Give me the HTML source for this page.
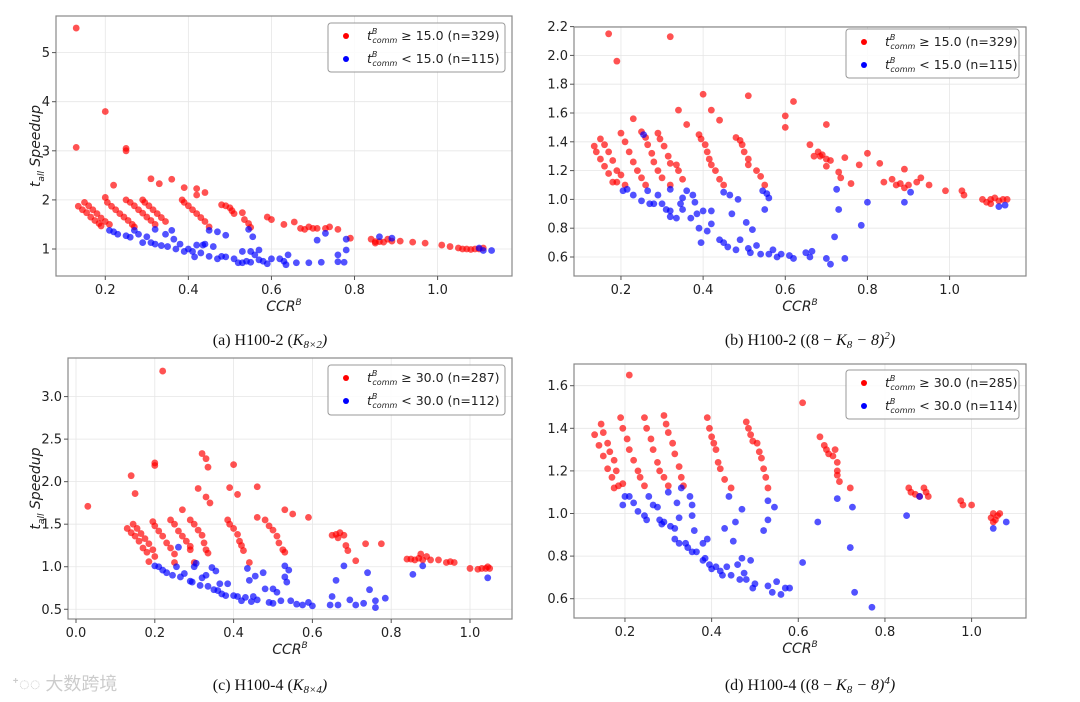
<!DOCTYPE html>
<html><head><meta charset="utf-8">
<style>
html,body{margin:0;padding:0;background:#fff;}
svg{display:block;font-family:"DejaVu Sans","Liberation Sans",sans-serif;}
.tick{font-size:13px;fill:#222;}
.cap{font-family:"Liberation Serif",serif;font-size:16px;fill:#111;}
</style></head>
<body>
<svg id="fig" width="1080" height="702" viewBox="0 0 1080 702" xmlns="http://www.w3.org/2000/svg"></svg>
<script>
// ---- data ----
const aXTicks=[0.2,0.4,0.6,0.8,1.0];
const aYTicks=[1,2,3,4,5];
const bXTicks=[0.2,0.4,0.6,0.8,1.0];
const bYTicks=[0.6,0.8,1.0,1.2,1.4,1.6,1.8,2.0,2.2];
const cXTicks=[0.0,0.2,0.4,0.6,0.8,1.0];
const cYTicks=[0.5,1.0,1.5,2.0,2.5,3.0];
const dXTicks=[0.2,0.4,0.6,0.8,1.0];
const dYTicks=[0.6,0.8,1.0,1.2,1.4,1.6];
const aLegend=["≥ 15.0 (n=329)","< 15.0 (n=115)"];
const bLegend=["≥ 15.0 (n=329)","< 15.0 (n=115)"];
const cLegend=["≥ 30.0 (n=287)","< 30.0 (n=112)"];
const dLegend=["≥ 30.0 (n=285)","< 30.0 (n=114)"];
const captions=["(a) H100-2 (","(b) H100-2 ((8 − ","(c) H100-4 (","(d) H100-4 ((8 − "];

const aRed=[[0.13,5.5],[0.13,3.07],[0.2,3.8],[0.25,3.05],[0.25,3.0],[0.31,2.43],[0.33,2.33],[0.36,2.42],[0.39,2.25],[0.42,2.23],[0.44,2.15],[0.22,2.3],[0.42,2.1],
[0.135,1.87],[0.145,1.8],[0.155,1.74],[0.165,1.65],[0.175,1.58],[0.185,1.52],[0.19,1.47],
[0.15,1.95],[0.16,1.88],[0.17,1.8],[0.18,1.72],[0.19,1.63],[0.2,1.56],[0.21,1.5],
[0.2,2.05],[0.205,1.95],[0.215,1.87],[0.225,1.8],[0.235,1.72],[0.245,1.65],[0.255,1.58],[0.265,1.5],[0.27,1.45],
[0.25,2.0],[0.26,1.95],[0.27,1.88],[0.28,1.8],[0.29,1.73],[0.3,1.65],[0.31,1.58],[0.32,1.5],
[0.29,2.0],[0.295,1.95],[0.305,1.88],[0.315,1.8],[0.325,1.72],[0.335,1.64],[0.345,1.56],
[0.385,2.0],[0.39,1.95],[0.4,1.88],[0.41,1.8],[0.42,1.72],[0.43,1.64],[0.44,1.56],[0.45,1.45],
[0.48,1.9],[0.49,1.88],[0.5,1.84],[0.505,1.78],[0.51,1.72],[0.53,1.74],[0.535,1.6],[0.545,1.52],[0.55,1.44],
[0.59,1.65],[0.6,1.6],[0.63,1.5],[0.655,1.55],[0.67,1.42],[0.68,1.4],[0.69,1.45],[0.7,1.42],[0.71,1.42],[0.73,1.42],[0.74,1.45],[0.76,1.4],[0.79,1.22],[0.84,1.2],[0.85,1.15],[0.86,1.15],[0.87,1.14],[0.88,1.2],[0.89,1.16],[0.91,1.16],[0.94,1.14],[0.97,1.12],[1.01,1.08],[1.03,1.05],[1.05,1.02],[1.06,1.0],[1.07,1.0],[1.08,0.99],[1.09,1.0],[1.1,1.0],[1.11,1.02],[0.85,1.12]];
const aBlue=[[0.21,1.38],[0.22,1.35],[0.23,1.3],[0.25,1.27],[0.26,1.24],[0.27,1.38],[0.28,1.3],[0.29,1.13],[0.3,1.25],[0.31,1.13],[0.32,1.4],[0.32,1.1],[0.335,1.07],[0.345,1.3],[0.35,1.05],[0.36,1.38],[0.365,1.2],[0.37,1.0],[0.38,1.1],[0.39,0.95],[0.4,1.0],[0.41,0.95],[0.415,0.84],[0.42,1.08],[0.43,0.92],[0.435,1.08],[0.44,1.1],[0.45,0.85],[0.45,1.38],[0.46,1.05],[0.47,1.35],[0.47,0.8],[0.48,0.85],[0.49,1.28],[0.49,0.84],[0.51,0.8],[0.52,0.72],[0.53,0.72],[0.53,0.95],[0.54,0.75],[0.55,0.73],[0.55,0.95],[0.545,1.4],[0.555,1.25],[0.56,0.88],[0.57,0.98],[0.57,0.78],[0.58,0.75],[0.59,0.7],[0.6,0.8],[0.62,0.8],[0.63,0.75],[0.635,0.68],[0.64,0.88],[0.66,0.72],[0.69,0.72],[0.71,1.18],[0.72,0.73],[0.73,1.32],[0.76,0.88],[0.76,0.74],[0.775,0.73],[0.78,0.98],[0.78,1.2],[0.86,1.25],[0.89,1.22],[1.1,1.02],[1.11,0.97],[1.13,0.97]];

const bRed=[[0.17,2.15],[0.19,1.96],[0.32,2.13],[0.4,1.73],[0.51,1.72],[0.62,1.68],[0.23,1.56],[0.34,1.62],[0.42,1.62],[0.44,1.55],[0.36,1.52],[0.6,1.58],[0.6,1.5],[0.7,1.52],[0.25,1.47],
[0.135,1.37],[0.14,1.33],[0.15,1.28],[0.16,1.23],[0.17,1.18],[0.18,1.12],[0.19,1.12],
[0.15,1.42],[0.16,1.38],[0.17,1.33],[0.18,1.27],[0.19,1.2],[0.2,1.17],[0.21,1.1],
[0.2,1.46],[0.21,1.4],[0.22,1.33],[0.23,1.26],[0.24,1.2],[0.25,1.15],[0.26,1.1],
[0.26,1.43],[0.265,1.38],[0.275,1.32],[0.28,1.26],[0.29,1.2],[0.3,1.15],[0.32,1.1],
[0.29,1.46],[0.295,1.42],[0.305,1.37],[0.315,1.3],[0.32,1.25],[0.335,1.24],[0.34,1.2],[0.35,1.14],
[0.39,1.45],[0.395,1.42],[0.405,1.38],[0.41,1.33],[0.415,1.28],[0.42,1.24],[0.43,1.2],[0.44,1.14],[0.45,1.1],
[0.48,1.43],[0.49,1.41],[0.495,1.38],[0.5,1.33],[0.51,1.28],[0.51,1.24],[0.53,1.2],[0.54,1.16],[0.55,1.1],
[0.66,1.38],[0.67,1.3],[0.68,1.33],[0.685,1.3],[0.69,1.31],[0.7,1.28],[0.7,1.23],[0.71,1.27],[0.73,1.19],[0.735,1.15],[0.745,1.29],[0.76,1.11],[0.78,1.24],[0.8,1.32],[0.83,1.25],[0.84,1.12],[0.86,1.14],[0.87,1.1],[0.88,1.11],[0.89,1.21],[0.89,1.08],[0.9,1.1],[0.92,1.12],[0.93,1.15],[0.95,1.1],[0.99,1.06],[1.03,1.06],[1.035,1.03],[1.08,1.0],[1.09,0.98],[1.1,1.0],[1.11,1.01],[1.12,0.99],[1.13,1.0],[1.14,1.0],[1.1,0.97]];
const bBlue=[[0.205,1.06],[0.215,1.07],[0.23,1.03],[0.25,0.99],[0.255,1.45],[0.265,1.06],[0.27,0.97],[0.28,0.97],[0.29,1.03],[0.3,0.97],[0.31,0.93],[0.32,1.07],[0.32,0.88],[0.32,0.92],[0.335,0.87],[0.345,0.97],[0.35,1.01],[0.35,0.93],[0.36,1.06],[0.37,0.87],[0.375,1.03],[0.38,0.98],[0.385,0.9],[0.39,0.8],[0.395,0.7],[0.4,0.92],[0.41,0.78],[0.42,0.83],[0.42,0.92],[0.44,0.72],[0.45,1.05],[0.45,0.7],[0.46,0.67],[0.465,1.03],[0.47,0.9],[0.48,0.65],[0.485,1.0],[0.49,0.72],[0.505,0.84],[0.51,0.66],[0.515,0.63],[0.52,0.79],[0.53,0.68],[0.54,0.62],[0.545,1.06],[0.55,0.93],[0.555,1.04],[0.56,1.01],[0.56,0.62],[0.57,0.65],[0.58,0.6],[0.59,0.62],[0.61,0.61],[0.62,0.59],[0.65,0.63],[0.66,0.6],[0.665,0.64],[0.7,0.59],[0.71,0.55],[0.72,0.74],[0.725,1.07],[0.73,0.93],[0.745,0.59],[0.785,0.82],[0.8,0.98],[0.89,0.98],[0.905,1.05],[1.12,0.95],[1.135,0.96]];

const cRed=[[0.03,1.71],[0.22,3.3],[0.32,2.33],[0.33,2.27],[0.335,2.17],[0.4,2.2],[0.2,2.22],[0.2,2.19],[0.14,2.07],[0.15,1.86],[0.31,1.92],[0.39,1.93],[0.41,1.85],[0.33,1.82],[0.34,1.75],[0.46,1.94],[0.27,1.67],[0.53,1.67],[0.55,1.62],[0.59,1.58],[0.46,1.58],
[0.13,1.45],[0.14,1.4],[0.15,1.36],[0.16,1.3],[0.17,1.22],[0.18,1.17],[0.185,1.06],
[0.145,1.5],[0.155,1.45],[0.165,1.39],[0.175,1.33],[0.185,1.27],[0.195,1.2],[0.2,1.12],
[0.195,1.53],[0.2,1.48],[0.21,1.42],[0.22,1.36],[0.23,1.28],[0.24,1.22],[0.25,1.15],[0.25,1.05],
[0.24,1.55],[0.25,1.5],[0.26,1.42],[0.27,1.36],[0.28,1.3],[0.29,1.24],[0.29,1.2],
[0.29,1.55],[0.3,1.5],[0.31,1.43],[0.32,1.37],[0.325,1.28],[0.33,1.2],[0.335,1.16],[0.3,1.05],
[0.385,1.55],[0.39,1.5],[0.4,1.45],[0.41,1.38],[0.415,1.3],[0.42,1.25],[0.425,1.19],[0.44,1.05],
[0.48,1.55],[0.49,1.48],[0.5,1.43],[0.51,1.36],[0.515,1.28],[0.525,1.2],[0.53,1.17],
[0.65,1.37],[0.66,1.38],[0.665,1.34],[0.67,1.4],[0.68,1.37],[0.685,1.25],[0.69,1.19],[0.71,1.07],[0.735,1.27],[0.775,1.27],[0.84,1.09],[0.85,1.09],[0.86,1.08],[0.87,1.1],[0.875,1.15],[0.88,1.08],[0.89,1.12],[0.9,1.08],[0.92,1.08],[0.94,1.05],[0.95,1.06],[0.96,1.05],[1.0,0.98],[1.02,0.97],[1.03,0.98],[1.04,0.98],[1.045,1.0],[1.05,0.98]];
const cBlue=[[0.2,1.01],[0.21,1.0],[0.22,0.96],[0.23,0.93],[0.245,0.9],[0.255,1.0],[0.26,1.23],[0.265,0.88],[0.275,0.92],[0.29,0.83],[0.295,0.82],[0.3,1.0],[0.305,1.04],[0.315,0.78],[0.32,0.87],[0.33,0.9],[0.335,0.77],[0.345,0.99],[0.35,0.73],[0.355,0.95],[0.36,0.72],[0.365,0.8],[0.37,0.68],[0.38,0.66],[0.385,0.8],[0.4,0.66],[0.41,0.65],[0.42,0.6],[0.43,0.64],[0.435,0.98],[0.44,0.84],[0.445,0.59],[0.45,0.65],[0.455,0.89],[0.46,0.61],[0.475,0.93],[0.48,0.74],[0.49,0.58],[0.5,0.57],[0.5,0.74],[0.51,0.7],[0.52,0.6],[0.53,1.01],[0.53,0.88],[0.535,0.82],[0.54,0.96],[0.545,0.6],[0.56,0.56],[0.575,0.55],[0.59,0.58],[0.6,0.54],[0.645,0.55],[0.65,0.65],[0.66,0.84],[0.665,0.55],[0.68,1.01],[0.695,0.61],[0.71,0.55],[0.73,0.57],[0.74,0.93],[0.745,0.73],[0.76,0.6],[0.76,0.52],[0.785,0.63],[0.855,0.91],[0.88,1.01],[1.045,0.87]];

const dRed=[[0.21,1.65],[0.61,1.52],
[0.13,1.37],[0.14,1.32],[0.15,1.27],[0.16,1.21],[0.17,1.17],[0.175,1.12],[0.185,1.13],
[0.145,1.42],[0.15,1.38],[0.16,1.33],[0.165,1.29],[0.175,1.25],[0.18,1.2],[0.195,1.14],
[0.19,1.45],[0.195,1.4],[0.205,1.35],[0.21,1.3],[0.22,1.25],[0.23,1.2],[0.235,1.17],[0.245,1.13],
[0.245,1.45],[0.25,1.4],[0.26,1.35],[0.265,1.3],[0.275,1.24],[0.28,1.2],[0.29,1.17],[0.3,1.13],
[0.29,1.46],[0.295,1.42],[0.3,1.38],[0.31,1.33],[0.315,1.28],[0.325,1.22],[0.33,1.17],[0.335,1.13],
[0.39,1.45],[0.395,1.4],[0.4,1.36],[0.405,1.33],[0.41,1.3],[0.415,1.24],[0.42,1.21],[0.43,1.16],[0.445,1.12],
[0.48,1.43],[0.485,1.4],[0.49,1.37],[0.495,1.34],[0.505,1.33],[0.51,1.29],[0.515,1.26],[0.52,1.21],[0.525,1.17],[0.53,1.12],
[0.65,1.36],[0.66,1.32],[0.665,1.3],[0.67,1.28],[0.68,1.27],[0.685,1.3],[0.69,1.24],[0.69,1.2],[0.69,1.18],[0.695,1.15],[0.72,1.12],[0.855,1.12],[0.86,1.1],[0.87,1.09],[0.88,1.08],[0.89,1.12],[0.895,1.1],[0.9,1.08],[0.975,1.06],[0.98,1.04],[1.0,1.04],[1.045,0.98],[1.05,1.0],[1.055,0.97],[1.06,0.99],[1.065,1.0],[1.05,0.96]];
const dBlue=[[0.195,1.04],[0.2,1.08],[0.21,1.08],[0.22,1.05],[0.23,1.01],[0.245,0.99],[0.25,0.97],[0.255,1.08],[0.265,1.04],[0.275,1.03],[0.28,0.97],[0.285,0.95],[0.29,0.96],[0.3,1.1],[0.305,0.94],[0.315,0.93],[0.315,0.88],[0.32,1.05],[0.325,0.86],[0.325,0.98],[0.33,1.12],[0.34,0.86],[0.345,0.84],[0.35,1.08],[0.355,1.04],[0.355,0.99],[0.36,0.92],[0.355,0.82],[0.365,0.82],[0.38,0.78],[0.38,0.86],[0.385,0.79],[0.39,0.88],[0.395,0.76],[0.4,0.74],[0.41,0.75],[0.42,0.73],[0.425,0.71],[0.43,0.93],[0.435,0.75],[0.44,1.08],[0.445,0.71],[0.45,0.87],[0.455,0.96],[0.46,0.76],[0.465,0.69],[0.47,1.02],[0.47,0.79],[0.475,0.72],[0.48,0.69],[0.49,0.78],[0.495,0.65],[0.5,0.67],[0.52,0.92],[0.53,0.97],[0.53,1.06],[0.53,0.66],[0.54,0.63],[0.545,1.03],[0.55,0.68],[0.56,0.62],[0.57,0.65],[0.58,0.65],[0.61,0.77],[0.645,0.96],[0.69,1.07],[0.72,0.84],[0.725,1.03],[0.73,0.63],[0.77,0.56],[0.85,0.99],[0.88,1.08],[1.05,0.93],[1.08,0.96]];

// ---- drawing ----
const NS="http://www.w3.org/2000/svg";
const svg=document.getElementById('fig');
function mk(tag,attrs,parent){const e=document.createElementNS(NS,tag);for(const k in attrs)e.setAttribute(k,attrs[k]);(parent||svg).appendChild(e);return e;}

function panel(id,box,xmap,ymap,xt,yt,red,blue,leg,legBox,ylabel,yfmt){
  const g=mk('g',{});
  
  
  const sx=v=>xmap[0]+v*xmap[1];
  const sy=v=>ymap[0]-v*ymap[1];
  // grid
  xt.forEach(t=>{const l=mk('line',{x1:sx(t),x2:sx(t),y1:box[1],y2:box[3],stroke:'#e6e6e6','stroke-width':0.8},g);
    });
  yt.forEach(t=>{const l=mk('line',{x1:box[0],x2:box[2],y1:sy(t),y2:sy(t),stroke:'#e6e6e6','stroke-width':0.8},g);
    });
  // points
  const pts=mk('g',{},g);
  
  red.forEach(p=>{const c=mk('circle',{cx:sx(p[0]),cy:sy(p[1]),r:3.4,fill:'#ff0000','fill-opacity':0.68},pts);
    });
  blue.forEach(p=>{const c=mk('circle',{cx:sx(p[0]),cy:sy(p[1]),r:3.4,fill:'#0000ff','fill-opacity':0.68},pts);
    });
  // frame
  const fr=mk('rect',{x:box[0],y:box[1],width:box[2]-box[0],height:box[3]-box[1],fill:'none',stroke:'#888','stroke-width':1.2},g);
  
  // ticks
  xt.forEach(t=>{mk('line',{x1:sx(t),x2:sx(t),y1:box[3],y2:box[3]+4,stroke:'#555'},g);
    const tx=mk('text',{x:sx(t),y:box[3]+18,'text-anchor':'middle',class:'tick'},g);tx.textContent=t.toFixed(1);
    });
  yt.forEach(t=>{mk('line',{x1:box[0]-4,x2:box[0],y1:sy(t),y2:sy(t),stroke:'#555'},g);
    const tx=mk('text',{x:box[0]-6,y:sy(t)+4.5,'text-anchor':'end',class:'tick'},g);tx.textContent=yfmt(t);
    });
  // x label
  const xl=mk('text',{x:(box[0]+box[2])/2,y:box[3]+35,'text-anchor':'middle','font-size':14,'font-style':'italic',fill:'#222'},g);
  xl.innerHTML='CCR<tspan dy="-6" font-size="9">B</tspan>';
  
  if(ylabel){
    const cy=(box[1]+box[3])/2;
    const yl=mk('text',{x:0,y:0,transform:`translate(40,${cy}) rotate(-90)`,'text-anchor':'middle','font-size':14,'font-style':'italic',fill:'#222'},g);
    yl.innerHTML='t<tspan dy="4" font-size="9">all</tspan><tspan dy="-4"> Speedup</tspan>';
    
  }
  // legend
  const lg=mk('g',{},g);
  
  mk('rect',{x:legBox[0],y:legBox[1],width:legBox[2]-legBox[0],height:legBox[3]-legBox[1],rx:3,fill:'#fff','fill-opacity':0.85,stroke:'#999','stroke-width':1},lg);
  const cols=['#ff0000','#0000ff'];
  leg.forEach((s,i)=>{
    const ry=legBox[1]+13+i*23;
    const e=mk('g',{},lg);
    
    mk('circle',{cx:legBox[0]+18,cy:ry,r:3,fill:cols[i]},e);
    const t=mk('text',{x:legBox[0]+39,y:ry+4,'font-size':12.5,fill:'#222'},e);
    t.innerHTML='<tspan font-style="italic">t</tspan><tspan dy="-6" font-size="8" font-style="italic">B</tspan><tspan dx="-5" dy="9" font-size="8" font-style="italic">comm</tspan><tspan dy="-3"> '+s.replace('<','&lt;')+'</tspan>';
  });
}
const f1=t=>String(t), f2=t=>t.toFixed(1);
panel('a',[56,16,512,276],[22.2,415.4],[298.1,49.1],aXTicks,aYTicks,aRed,aBlue,aLegend,[328,23,505,72],true,f1);
panel('b',[574,27,1026,276],[538.8,410.8],[343.4,144],bXTicks,bYTicks,bRed,bBlue,bLegend,[846,29,1019,78],false,f2);
panel('c',[68,358,512,619],[76,394],[651.8,85.07],cXTicks,cYTicks,cRed,cBlue,cLegend,[328,365,505,415],true,f2);
panel('d',[574,364,1026,618],[538.3,433.3],[726.5,213],dXTicks,dYTicks,dRed,dBlue,dLegend,[846,370,1019,419],false,f2);

// captions
const capData=[[270,345,captions[0],'K<tspan dy="3" font-size="11">8×2</tspan><tspan dy="-3">)</tspan>'],
[810,345,captions[1],'K<tspan dy="3" font-size="11">8</tspan><tspan dy="-3"> − 8)</tspan><tspan dy="-6" font-size="11">2</tspan><tspan dy="6">)</tspan>'],
[270,690,captions[2],'K<tspan dy="3" font-size="11">8×4</tspan><tspan dy="-3">)</tspan>'],
[810,690,captions[3],'K<tspan dy="3" font-size="11">8</tspan><tspan dy="-3"> − 8)</tspan><tspan dy="-6" font-size="11">4</tspan><tspan dy="6">)</tspan>']];
capData.forEach(c=>{
  const t=mk('text',{x:c[0],y:c[1],'text-anchor':'middle',class:'cap'});
  t.innerHTML=c[2]+'<tspan font-style="italic">'+c[3]+'</tspan>';
  
  
});
const wm=mk('text',{x:12,y:690,'font-size':18,fill:'#ccc','font-family':'"Liberation Sans","Noto Sans CJK SC",sans-serif'});
wm.textContent='ᐩ◌◌ 大数跨境';


</script>
</body></html>
